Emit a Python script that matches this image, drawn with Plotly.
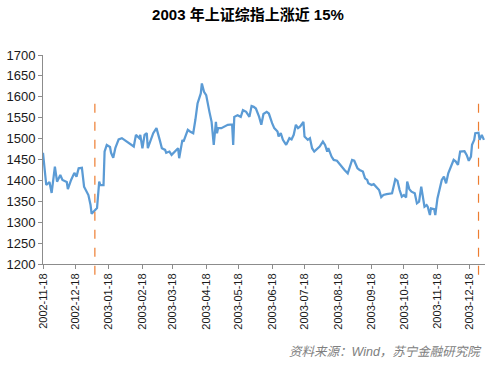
import plotly.graph_objects as go

dates = [
    "2002-11-18", "2002-11-21", "2002-11-24", "2002-11-26", "2002-11-29",
    "2002-12-01", "2002-12-04", "2002-12-06", "2002-12-10", "2002-12-11",
    "2002-12-14", "2002-12-17", "2002-12-19", "2002-12-21", "2002-12-24",
    "2002-12-26", "2002-12-30", "2003-01-01", "2003-01-02", "2003-01-05",
    "2003-01-07", "2003-01-09", "2003-01-10", "2003-01-13", "2003-01-14",
    "2003-01-16", "2003-01-19", "2003-01-20", "2003-01-22", "2003-01-24",
    "2003-01-27", "2003-01-30", "2003-02-05", "2003-02-10", "2003-02-12",
    "2003-02-15", "2003-02-16", "2003-02-18", "2003-02-20", "2003-02-22",
    "2003-02-23", "2003-02-25", "2003-02-28", "2003-03-03", "2003-03-04",
    "2003-03-06", "2003-03-08", "2003-03-11", "2003-03-12", "2003-03-15",
    "2003-03-17", "2003-03-20", "2003-03-23", "2003-03-24", "2003-03-27",
    "2003-03-28", "2003-03-31", "2003-04-01", "2003-04-03", "2003-04-06",
    "2003-04-08", "2003-04-10", "2003-04-13", "2003-04-14", "2003-04-16",
    "2003-04-18", "2003-04-21", "2003-04-23", "2003-04-25", "2003-04-27",
    "2003-04-28", "2003-04-29", "2003-05-02", "2003-05-08", "2003-05-12",
    "2003-05-13", "2003-05-14", "2003-05-17", "2003-05-20", "2003-05-22",
    "2003-05-25", "2003-05-28", "2003-05-30", "2003-06-01", "2003-06-03",
    "2003-06-06", "2003-06-08", "2003-06-10", "2003-06-13", "2003-06-15",
    "2003-06-18", "2003-06-20", "2003-06-23", "2003-06-24", "2003-06-26",
    "2003-06-28", "2003-07-01", "2003-07-04", "2003-07-06", "2003-07-08",
    "2003-07-10", "2003-07-12", "2003-07-14", "2003-07-17", "2003-07-18",
    "2003-07-21", "2003-07-23", "2003-07-25", "2003-07-27", "2003-07-30",
    "2003-08-01", "2003-08-04", "2003-08-06", "2003-08-08", "2003-08-09",
    "2003-08-12", "2003-08-14", "2003-08-17", "2003-08-20", "2003-08-22",
    "2003-08-24", "2003-08-27", "2003-08-28", "2003-08-31", "2003-09-02",
    "2003-09-05", "2003-09-07", "2003-09-10", "2003-09-12", "2003-09-14",
    "2003-09-15", "2003-09-18", "2003-09-20", "2003-09-23", "2003-09-25",
    "2003-09-27", "2003-09-29", "2003-10-02", "2003-10-07", "2003-10-10",
    "2003-10-12", "2003-10-14", "2003-10-16", "2003-10-18", "2003-10-20",
    "2003-10-21", "2003-10-23", "2003-10-25", "2003-10-28", "2003-10-30",
    "2003-11-01", "2003-11-03", "2003-11-05", "2003-11-06", "2003-11-08",
    "2003-11-09", "2003-11-11", "2003-11-12", "2003-11-15", "2003-11-16",
    "2003-11-18", "2003-11-20", "2003-11-22", "2003-11-24", "2003-11-26",
    "2003-11-28", "2003-11-30", "2003-12-03", "2003-12-05", "2003-12-07",
    "2003-12-09", "2003-12-13", "2003-12-15", "2003-12-17", "2003-12-19",
    "2003-12-20", "2003-12-22", "2003-12-23", "2003-12-26", "2003-12-27",
    "2003-12-29", "2003-12-31",
]

index_values = [
    1466, 1389, 1396, 1370, 1433,
    1397, 1413, 1401, 1396, 1379,
    1401, 1418, 1409, 1429, 1430,
    1385, 1365, 1341, 1320, 1329,
    1334, 1397, 1389, 1389, 1469,
    1485, 1480, 1466, 1454, 1478,
    1498, 1501, 1489, 1481, 1509,
    1501, 1509, 1477, 1509, 1513,
    1477, 1493, 1513, 1525, 1517,
    1497, 1477, 1473, 1466, 1469,
    1461, 1470, 1477, 1453, 1497,
    1493, 1513, 1521, 1517, 1513,
    1545, 1584, 1608, 1632, 1612,
    1604, 1564, 1540, 1485, 1540,
    1513, 1525, 1525, 1533, 1534,
    1485, 1552, 1556, 1552, 1568,
    1564, 1552, 1578, 1576, 1572,
    1552, 1533, 1559, 1564, 1560,
    1537, 1525, 1517, 1505, 1513,
    1497, 1485, 1501, 1498, 1509,
    1533, 1525, 1529, 1540, 1505,
    1497, 1501, 1477, 1469, 1477,
    1481, 1493, 1485, 1469, 1477,
    1457, 1449, 1447, 1437, 1429,
    1425, 1417, 1425, 1449, 1447,
    1429, 1425, 1421, 1405, 1401,
    1393, 1389, 1391, 1383, 1377,
    1360, 1365, 1367, 1369, 1403,
    1399, 1377, 1361, 1365, 1359,
    1397, 1379, 1373, 1369, 1345,
    1349, 1385, 1345, 1337, 1341,
    1337, 1317, 1333, 1331, 1317,
    1357, 1377, 1401, 1409, 1393,
    1417, 1431, 1449, 1445, 1437,
    1469, 1470, 1461, 1447, 1457,
    1485, 1497, 1513, 1514, 1497,
    1509, 1497,
]

tick_dates = [
    "2002-11-18", "2002-12-18", "2003-01-18", "2003-02-18", "2003-03-18",
    "2003-04-18", "2003-05-18", "2003-06-18", "2003-07-18", "2003-08-18",
    "2003-09-18", "2003-10-18", "2003-11-18", "2003-12-18",
]
y_ticks = [1200, 1250, 1300, 1350, 1400, 1450, 1500, 1550, 1600, 1650, 1700]
marker_dates = ["2003-01-05", "2003-12-26"]

title_text = "2003 年上证综指上涨近 15%"
source_text = "资料来源：Wind，苏宁金融研究院"

fig = go.Figure()
fig.add_trace(go.Scatter(
    x=dates, y=index_values, mode="lines",
    line=dict(color="#5B9BD5", width=2.25),
    hoverinfo="x+y", showlegend=False,
))

for d in marker_dates:
    fig.add_shape(
        type="line", xref="x", yref="paper",
        x0=d, x1=d, y0=-0.052, y1=0.78,
        line=dict(color="#ED7D31", width=1.2, dash="dash"),
    )

fig.update_layout(
    width=502, height=368,
    margin=dict(l=43, r=17, t=55, b=104, autoexpand=False),
    paper_bgcolor="white", plot_bgcolor="white",
    font=dict(family="Liberation Sans, Arial, Noto Sans CJK SC", color="#1a1a1a"),
    title=dict(
        text="<b>" + title_text + "</b>",
        x=0.494, xanchor="center", y=1 - 15 / 368, yanchor="middle",
        font=dict(size=15, color="#000000", family="Liberation Sans, Noto Sans CJK SC"),
    ),
    xaxis=dict(
        type="date",
        range=["2002-11-18", "2004-01-01"],
        tickmode="array",
        tickvals=tick_dates,
        ticktext=tick_dates,
        tickangle=-90,
        tickfont=dict(size=11, color="#1a1a1a"),
        showgrid=False, zeroline=False,
        showline=True, linecolor="#8c8c8c", linewidth=1,
        ticks="outside", ticklen=4, tickcolor="#8c8c8c",
        automargin=False,
    ),
    yaxis=dict(
        range=[1200, 1700],
        tickmode="array",
        tickvals=y_ticks,
        tickfont=dict(size=13, color="#1a1a1a"),
        showgrid=False, zeroline=False,
        showline=True, linecolor="#8c8c8c", linewidth=1,
        ticks="outside", ticklen=4, tickcolor="#8c8c8c",
        automargin=False,
    ),
    annotations=[dict(
        text="<i>" + source_text + "</i>",
        xref="paper", yref="paper", x=0.998, y=-0.421,
        xanchor="right", yanchor="middle", showarrow=False,
        font=dict(size=12.5, color="#808080", family="Liberation Sans, Noto Sans CJK SC"),
    )],
)

fig.write_html(
    "out.html",
    config={"displayModeBar": False},
    post_script="document.body.style.margin='0';document.body.style.overflow='hidden';",
)
